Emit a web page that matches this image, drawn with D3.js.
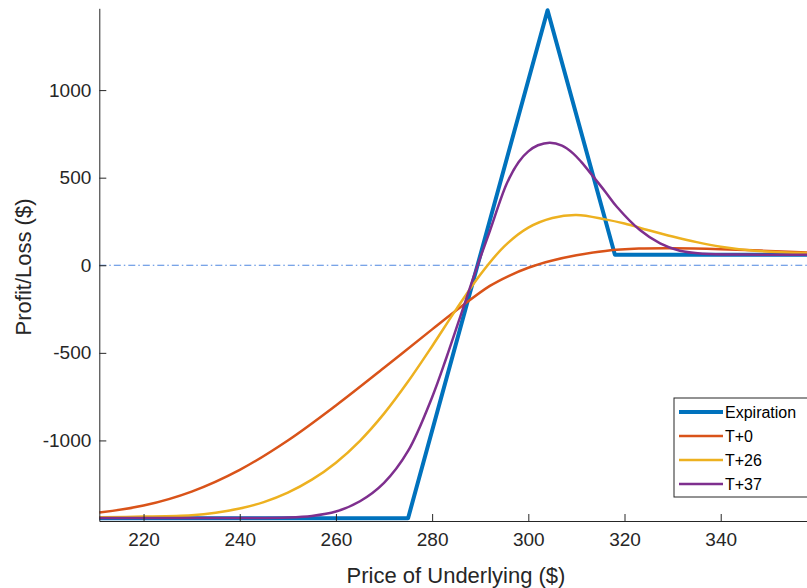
<!DOCTYPE html>
<html>
<head>
<meta charset="utf-8">
<script src="https://cdn.jsdelivr.net/npm/d3@7"></script>
<style>
  body { margin: 0; background: #fff; }
  svg { display: block; font-family: "Liberation Sans", Arial, sans-serif; }
</style>
</head>
<body>
<div id="chart"></div>
<script>
// price of underlying ($) -> profit/loss ($)
const expiration = [[210.8, -1444], [275, -1444], [304, 1456], [318, 60], [360, 60]];

const t0 = [
  [210.8, -1412], [220, -1372], [230, -1292], [240, -1168], [250, -1000],
  [260, -800], [270, -585], [280, -366], [286, -237], [292, -118],
  [296, -60], [300, -14], [305, 27], [310, 57], [316, 82],
  [323, 95], [330, 97], [340, 92], [350, 82], [360, 70]
];

const t26 = [
  [210.8, -1438], [220, -1435], [230, -1427], [235, -1413], [240, -1389],
  [245, -1352], [250, -1298], [255, -1224], [260, -1127], [265, -1002],
  [270, -847], [275, -664], [280, -462], [285, -252], [290, -54],
  [295, 108], [300, 215], [305, 270], [310, 287], [316, 262], [320, 238],
  [325, 200], [330, 164], [335, 132], [340, 106], [347, 83], [360, 68]
];

const t37 = [
  [210.8, -1443], [240, -1443], [250, -1440], [255, -1431], [260, -1406],
  [265, -1347], [270, -1242], [275, -1060], [280, -753], [283, -525],
  [286.5, -240], [289.3, -12], [292, 195], [295.5, 465], [298, 590],
  [300, 650], [302, 685], [304.5, 700], [307, 683], [309.3, 639], [311, 590],
  [313.5, 506], [316, 420], [318.4, 334], [323.2, 201], [327.4, 125],
  [331.5, 83], [336.4, 66], [345, 61], [360, 60]
];

const seriesNames = ["Expiration", "T+0", "T+26", "T+37"];
const seriesColors = ["#0072BD", "#D95319", "#EDB120", "#7E2F8E"];
const xTicks = [220, 240, 260, 280, 300, 320, 340];
const yTicks = [-1000, -500, 0, 500, 1000];

const chart = () => {
  let width = 807;
  let height = 588;
  let axisColor = "#262626";

  let xScale = d3.scaleLinear()
    .domain([210.8, 360])
    .range([99.3, 816.9]);

  let yScale = d3.scaleLinear()
    .domain([-1460, 1467])
    .range([521, 8.3]);

  let svg = d3.select("#chart")
    .append("svg")
    .attr("width", width)
    .attr("height", height);

  // zero line, dash-dot
  svg.append("line")
    .attr("x1", xScale(210.8))
    .attr("x2", xScale(360))
    .attr("y1", yScale(0))
    .attr("y2", yScale(0))
    .attr("stroke", "#4d87e0")
    .attr("stroke-width", 1)
    .attr("stroke-dasharray", "7,3,1.5,3");

  let line = d3.line()
    .x(d => xScale(d[0]))
    .y(d => yScale(d[1]));

  let smooth = d3.line()
    .x(d => xScale(d[0]))
    .y(d => yScale(d[1]))
    .curve(d3.curveCatmullRom.alpha(0.5));

  let data = [expiration, t0, t26, t37];
  data.forEach((d, i) => {
    svg.append("path")
      .datum(d)
      .attr("fill", "none")
      .attr("stroke", seriesColors[i])
      .attr("stroke-width", i === 0 ? 4 : 2.5)
      .attr("stroke-linejoin", "round")
      .attr("d", i === 0 ? line : smooth);
  });

  // axes, matlab style with inward ticks
  let xAxis = d3.axisBottom(xScale)
    .tickValues(xTicks)
    .tickSizeInner(-7)
    .tickSizeOuter(0)
    .tickPadding(12)
    .tickFormat(d => String(d));

  let yAxis = d3.axisLeft(yScale)
    .tickValues(yTicks)
    .tickSizeInner(-7)
    .tickSizeOuter(0)
    .tickPadding(8)
    .tickFormat(d => String(d));

  let gx = svg.append("g")
    .attr("transform", "translate(0," + yScale(-1460) + ")")
    .call(xAxis);

  let gy = svg.append("g")
    .attr("transform", "translate(" + xScale(210.8) + ",0)")
    .call(yAxis);

  [gx, gy].forEach(g => {
    g.select(".domain").attr("stroke", axisColor).attr("stroke-width", 1);
    g.selectAll(".tick line").attr("stroke", axisColor);
    g.selectAll(".tick text")
      .attr("fill", axisColor)
      .attr("font-size", "19px")
      .attr("font-family", "Liberation Sans, Arial, sans-serif");
  });

  svg.append("text")
    .attr("x", 456)
    .attr("y", 583)
    .attr("fill", axisColor)
    .attr("font-size", "22px")
    .style("text-anchor", "middle")
    .text("Price of Underlying ($)");

  svg.append("text")
    .attr("transform", "rotate(-90)")
    .attr("x", -267)
    .attr("y", 31)
    .attr("fill", axisColor)
    .attr("font-size", "22px")
    .style("text-anchor", "middle")
    .text("Profit/Loss ($)");

  // legend box
  let legend = svg.append("g").attr("transform", "translate(674,398)");
  legend.append("rect")
    .attr("width", 150)
    .attr("height", 99)
    .attr("fill", "#fff")
    .attr("stroke", axisColor)
    .attr("stroke-width", 1);

  seriesNames.forEach((name, i) => {
    let y = 14 + i * 24;
    legend.append("line")
      .attr("x1", 5)
      .attr("x2", 49)
      .attr("y1", y)
      .attr("y2", y)
      .attr("stroke", seriesColors[i])
      .attr("stroke-width", i === 0 ? 4 : 2.5);
    legend.append("text")
      .attr("x", 51)
      .attr("y", y + 6)
      .attr("fill", "#000")
      .attr("font-size", "16px")
      .text(name);
  });
};
chart();
</script>
</body>
</html>
